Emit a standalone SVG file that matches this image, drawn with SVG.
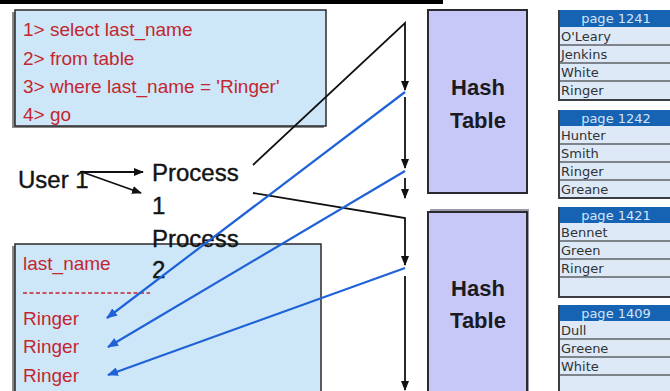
<svg xmlns="http://www.w3.org/2000/svg" width="670" height="391" viewBox="0 0 670 391">
  <style>
    .sql { font-family: "Liberation Sans", Arial, sans-serif; font-size: 19px; fill: #c4262e; }
    .lbl { font-family: "Liberation Sans", Arial, sans-serif; font-size: 24px; fill: #141414; stroke: #141414; stroke-width: 0.4; }
    .hash { font-family: "Liberation Sans", Arial, sans-serif; font-size: 22px; font-weight: bold; fill: #1a1a22; text-anchor: middle; }
    .box { fill: #cde7f9; stroke: #2a2a2a; stroke-width: 1.5; }
    .shadow { fill: #8a8a8a; }
    .htab { fill: #c8c8f8; stroke: #2a2a30; stroke-width: 2; }
    .phead { fill: #1763b3; }
    .ptitle { font-family: "DejaVu Sans", sans-serif; font-size: 13px; fill: #d4e4f7; text-anchor: middle; }
    .prow { fill: #dde9f6; }
    .pdiv { stroke: #5c6066; stroke-width: 1.5; }
    .pedge { stroke: #3a3d42; stroke-width: 2; fill: none; }
    .ptxt { font-family: "DejaVu Sans", sans-serif; font-size: 13px; fill: #303236; }
    .blk { stroke: #111; stroke-width: 1.8; fill: none; }
    .blu { stroke: #1f62d8; stroke-width: 2.2; fill: none; }
  </style>
  <defs>
    <marker id="ah" markerWidth="10" markerHeight="8" refX="9" refY="4" orient="auto" markerUnits="userSpaceOnUse">
      <path d="M0,0 L10,4 L0,8 Z" fill="#111"/>
    </marker>
    <marker id="ahb" markerWidth="11" markerHeight="9" refX="10" refY="4.5" orient="auto" markerUnits="userSpaceOnUse">
      <path d="M0,0 L11,4.5 L0,9 Z" fill="#1f62d8"/>
    </marker>
  </defs>

  <rect width="670" height="391" fill="#ffffff"/>
  <!-- rule along the top edge -->
  <rect x="0" y="0" width="443" height="4" fill="#000"/>

  <!-- query box -->
  <g id="query">
    <rect class="shadow" x="12" y="12" width="312" height="116"/>
    <rect class="box" x="15" y="10" width="311" height="116"/>
    <text class="sql" x="23" y="36">1&gt; select last_name</text>
    <text class="sql" x="23" y="65">2&gt; from table</text>
    <text class="sql" x="23" y="93">3&gt; where last_name = 'Ringer'</text>
    <text class="sql" x="23" y="121">4&gt; go</text>
  </g>

  <!-- result box -->
  <g id="result">
    <rect class="shadow" x="12" y="246" width="308" height="146"/>
    <rect class="box" x="15" y="244" width="306" height="148"/>
    <text class="sql" x="23" y="270">last_name</text>
    <line x1="23" y1="293" x2="150" y2="293" stroke="#c4262e" stroke-width="1.3" stroke-dasharray="4,2.5"/>
    <text class="sql" x="23" y="325">Ringer</text>
    <text class="sql" x="23" y="353">Ringer</text>
    <text class="sql" x="23" y="382">Ringer</text>
  </g>

  <g id="user1">
    <text class="lbl" x="18" y="188">User 1</text>
  </g>
  <g id="process1">
    <text class="lbl" x="152" y="181">Process</text>
    <text class="lbl" x="152" y="214">1</text>
  </g>
  <g id="process2">
    <text class="lbl" x="152" y="247">Process</text>
    <text class="lbl" x="152" y="278">2</text>
  </g>

  <!-- hash tables -->
  <g id="hash1">
    <rect class="htab" x="428" y="10" width="99" height="183"/>
    <text class="hash" x="478" y="95">Hash</text>
    <text class="hash" x="478" y="128">Table</text>
  </g>
  <g id="hash2">
    <rect x="430" y="209" width="99" height="190" fill="#9a9aa6"/>
    <rect class="htab" x="428" y="212" width="99" height="186"/>
    <text class="hash" x="478" y="296">Hash</text>
    <text class="hash" x="478" y="328">Table</text>
  </g>

  <!-- data pages -->
  <g id="page1241">
    <rect class="prow" x="558" y="10" width="114" height="90"/>
    <rect class="phead" x="558" y="10" width="114" height="17"/>
    <text class="ptitle" x="616" y="23">page 1241</text>
    <line class="pdiv" x1="558" y1="45" x2="672" y2="45"/>
    <line class="pdiv" x1="558" y1="63" x2="672" y2="63"/>
    <line class="pdiv" x1="558" y1="81" x2="672" y2="81"/>
    <path class="pedge" d="M559,10 V100 H672"/>
    <text class="ptxt" x="561" y="41">O'Leary</text>
    <text class="ptxt" x="561" y="59">Jenkins</text>
    <text class="ptxt" x="561" y="77">White</text>
    <text class="ptxt" x="561" y="95">Ringer</text>
  </g>
  <g id="page1242">
    <rect class="prow" x="558" y="110" width="114" height="89"/>
    <rect class="phead" x="558" y="110" width="114" height="16"/>
    <text class="ptitle" x="616" y="123">page 1242</text>
    <line class="pdiv" x1="558" y1="144" x2="672" y2="144"/>
    <line class="pdiv" x1="558" y1="162" x2="672" y2="162"/>
    <line class="pdiv" x1="558" y1="180" x2="672" y2="180"/>
    <path class="pedge" d="M559,110 V198 H672"/>
    <text class="ptxt" x="561" y="140">Hunter</text>
    <text class="ptxt" x="561" y="158">Smith</text>
    <text class="ptxt" x="561" y="176">Ringer</text>
    <text class="ptxt" x="561" y="194">Greane</text>
  </g>
  <g id="page1421">
    <rect class="prow" x="558" y="207" width="114" height="91"/>
    <rect class="phead" x="558" y="207" width="114" height="16"/>
    <text class="ptitle" x="616" y="220">page 1421</text>
    <line class="pdiv" x1="558" y1="241" x2="672" y2="241"/>
    <line class="pdiv" x1="558" y1="259" x2="672" y2="259"/>
    <line class="pdiv" x1="558" y1="277" x2="672" y2="277"/>
    <path class="pedge" d="M559,207 V297 H672"/>
    <text class="ptxt" x="561" y="237">Bennet</text>
    <text class="ptxt" x="561" y="255">Green</text>
    <text class="ptxt" x="561" y="273">Ringer</text>
  </g>
  <g id="page1409">
    <rect class="prow" x="558" y="305" width="114" height="90"/>
    <rect class="phead" x="558" y="305" width="114" height="16"/>
    <text class="ptitle" x="616" y="318">page 1409</text>
    <line class="pdiv" x1="558" y1="339" x2="672" y2="339"/>
    <line class="pdiv" x1="558" y1="357" x2="672" y2="357"/>
    <line class="pdiv" x1="558" y1="375" x2="672" y2="375"/>
    <path class="pedge" d="M559,305 V395"/>
    <text class="ptxt" x="561" y="335">Dull</text>
    <text class="ptxt" x="561" y="353">Greene</text>
    <text class="ptxt" x="561" y="371">White</text>
  </g>

  <!-- connectors -->
  <g id="connectors">
    <line class="blk" x1="80" y1="172" x2="143" y2="172" marker-end="url(#ah)"/>
    <line class="blk" x1="82" y1="172" x2="141" y2="193" marker-end="url(#ah)"/>

    <polyline class="blk" points="253,165 405,23 405,90" marker-end="url(#ah)"/>
    <line class="blk" x1="405" y1="97" x2="405" y2="168" marker-end="url(#ah)"/>
    <line class="blk" x1="405" y1="178" x2="405" y2="198" marker-end="url(#ah)"/>
    <polyline class="blk" points="253,193 405,218 405,265" marker-end="url(#ah)"/>
    <line class="blk" x1="405" y1="276" x2="405" y2="390" marker-end="url(#ah)"/>

    <line class="blu" x1="405" y1="92" x2="107" y2="318" marker-end="url(#ahb)"/>
    <line class="blu" x1="405" y1="171" x2="108" y2="347" marker-end="url(#ahb)"/>
    <line class="blu" x1="405" y1="268" x2="108" y2="375" marker-end="url(#ahb)"/>
  </g>
</svg>
